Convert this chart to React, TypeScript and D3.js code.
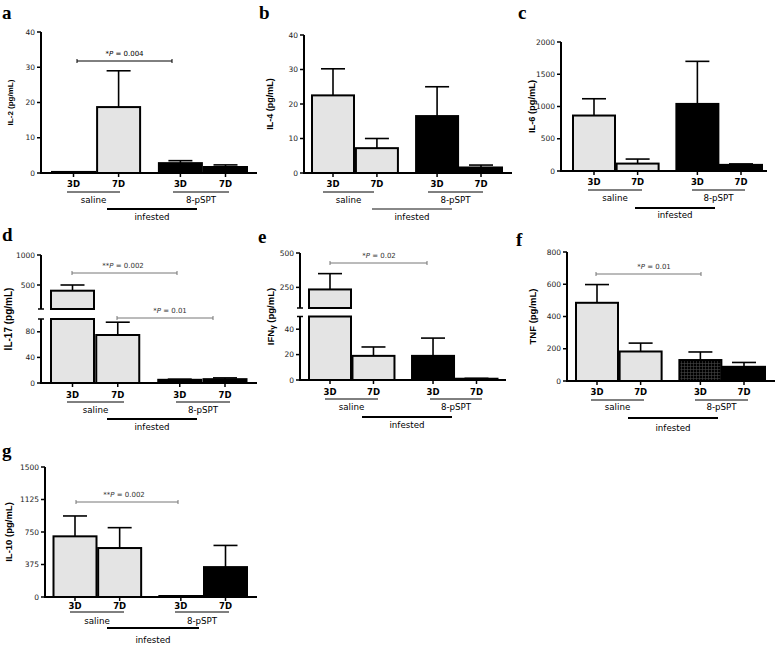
import React from "react";
import * as d3 from "d3";

// ---------- DATA ----------
const categories = ["3D", "7D", "3D", "7D"];
const groupLabels = ["saline", "8-pSPT"];
const infestedLabel = "infested";
const panelLetters = ["a", "b", "c", "d", "e", "f", "g"];
const yTitles = ["IL-2", "IL-4", "IL-6", "IL-17", "IFN", "TNF", "IL-10"];

const il2Mean = [0.3, 18.7, 2.8, 1.7];
const il2Upper = [0, 29, 3.5, 2.3];
const il4Mean = [22.5, 7.2, 16.5, 1.6];
const il4Upper = [30.2, 10, 25, 2.3];
const il6Mean = [860, 115, 1040, 95];
const il6Upper = [1120, 185, 1700, 110];
const il17Mean = [405, 75, 5, 6];
const il17Upper = [500, 95, 6, 8];
const ifnMean = [235, 19, 19, 1];
const ifnUpper = [350, 26, 33, 1.3];
const tnfMean = [485, 183, 130, 88];
const tnfUpper = [598, 235, 180, 115];
const il10Mean = [700, 565, 10, 345];
const il10Upper = [935, 800, 10, 595];

const ticksLinear40 = [0, 10, 20, 30, 40];
const ticksIL6 = [0, 500, 1000, 1500, 2000];
const ticksIL17Low = [0, 40, 80];
const ticksIL17High = [500, 1000];
const ticksIFNLow = [0, 20, 40];
const ticksIFNHigh = [250, 500];
const ticksTNF = [0, 200, 400, 600, 800];
const ticksIL10 = [0, 375, 750, 1125, 1500];

const pValues = ["*P = 0.004", "**P = 0.002", "*P = 0.01", "*P = 0.02", "*P = 0.01", "**P = 0.002"];

// bar fill kinds: s = saline (light), b = black, p = patterned
const fillsDefault = ["s", "s", "b", "b"];
const fillsTNF = ["s", "s", "p", "b"];

// ---------- LAYOUT ----------
type Seg = { domain: [number, number]; range: [number, number]; ticks: number[]; breakLow?: boolean; breakHigh?: boolean };
type Bracket = { x1: number; x2: number; y: number; text: string; color: string; tx?: number };

const panels = [
  {
    letter: panelLetters[0], lx: 2, ly: 19, title: yTitles[0], titleSize: 8, titleX: 10,
    mean: il2Mean, upper: il2Upper, fills: fillsDefault,
    axisX: 41, axisEnd: 257, zeroY: 173, c1: 73.5, c4: 225.5, barW: 43,
    segs: [{ domain: [0, 40], range: [173, 32], ticks: ticksLinear40 }] as Seg[],
    tickY: 184, underY: 192, groupY: 200, infY: 209, infTextY: 217,
    saline: [67, 120], pspt: [173, 229], inf: [107, 197], infColor: "#000",
    brackets: [{ x1: 77, x2: 172, y: 61, text: pValues[0], color: "#000" }] as Bracket[],
  },
  {
    letter: panelLetters[1], lx: 259, ly: 19, title: yTitles[1], titleSize: 9, titleX: 270,
    mean: il4Mean, upper: il4Upper, fills: fillsDefault,
    axisX: 304, axisEnd: 512, zeroY: 173, c1: 333, c4: 481, barW: 42,
    segs: [{ domain: [0, 40], range: [173, 35], ticks: ticksLinear40 }] as Seg[],
    tickY: 184, underY: 192, groupY: 200, infY: 209, infTextY: 217,
    saline: [323, 374], pspt: [428, 483], inf: [372, 452], infColor: "#888",
    brackets: [] as Bracket[],
  },
  {
    letter: panelLetters[2], lx: 518, ly: 19, title: yTitles[2], titleSize: 9.3, titleX: 532,
    mean: il6Mean, upper: il6Upper, fills: fillsDefault,
    axisX: 561, axisEnd: 767, zeroY: 171, c1: 594, c4: 741, barW: 42,
    segs: [{ domain: [0, 2000], range: [171, 42], ticks: ticksIL6 }] as Seg[],
    tickY: 182, underY: 190, groupY: 198, infY: 208, infTextY: 215,
    saline: [588, 642], pspt: [692, 745], inf: [635, 715], infColor: "#000",
    brackets: [] as Bracket[],
  },
  {
    letter: panelLetters[3], lx: 2, ly: 241, title: yTitles[3], titleSize: 10, titleX: 8,
    mean: il17Mean, upper: il17Upper, fills: fillsDefault,
    axisX: 41, axisEnd: 257, zeroY: 383, c1: 72.5, c4: 225, barW: 43,
    segs: [
      { domain: [0, 100], range: [383, 319], ticks: ticksIL17Low, breakHigh: true },
      { domain: [100, 1000], range: [309, 255], ticks: ticksIL17High, breakLow: true },
    ] as Seg[],
    tickY: 395, underY: 402, groupY: 410, infY: 419, infTextY: 427,
    saline: [67, 124], pspt: [176, 230], inf: [107, 197], infColor: "#000",
    brackets: [
      { x1: 72, x2: 177, y: 273, text: pValues[1], color: "#777", tx: 123 },
      { x1: 117, x2: 213, y: 318, text: pValues[2], color: "#777", tx: 170 },
    ] as Bracket[],
  },
  {
    letter: panelLetters[4], lx: 258, ly: 243, title: yTitles[4], titleSize: 9.5, titleX: 270,
    mean: ifnMean, upper: ifnUpper, fills: fillsDefault,
    axisX: 300, axisEnd: 506, zeroY: 380, c1: 330, c4: 476.5, barW: 42,
    segs: [
      { domain: [0, 50], range: [380, 316.5], ticks: ticksIFNLow, breakHigh: true },
      { domain: [100, 500], range: [308, 253], ticks: ticksIFNHigh, breakLow: true },
    ] as Seg[],
    tickY: 392, underY: 399, groupY: 407, infY: 417, infTextY: 425,
    saline: [325, 378], pspt: [430, 482], inf: [362, 452], infColor: "#000",
    brackets: [{ x1: 330, x2: 427, y: 263, text: pValues[3], color: "#777", tx: 379 }] as Bracket[],
  },
  {
    letter: panelLetters[5], lx: 516, ly: 246, title: yTitles[5], titleSize: 9.5, titleX: 532,
    mean: tnfMean, upper: tnfUpper, fills: fillsTNF,
    axisX: 567, axisEnd: 775, zeroY: 381, c1: 597, c4: 744, barW: 42,
    segs: [{ domain: [0, 800], range: [381, 252], ticks: ticksTNF }] as Seg[],
    tickY: 392, underY: 400, groupY: 407, infY: 418, infTextY: 428,
    saline: [591, 644], pspt: [695, 748], inf: [628, 718], infColor: "#000",
    brackets: [{ x1: 596, x2: 701, y: 274, text: pValues[4], color: "#777", tx: 654 }] as Bracket[],
  },
  {
    letter: panelLetters[6], lx: 2, ly: 457, title: yTitles[6], titleSize: 9.5, titleX: 8,
    mean: il10Mean, upper: il10Upper, fills: fillsDefault,
    axisX: 45, axisEnd: 257, zeroY: 597, c1: 75, c4: 225.5, barW: 43,
    segs: [{ domain: [0, 1500], range: [597, 467], ticks: ticksIL10 }] as Seg[],
    tickY: 606, underY: 612, groupY: 621, infY: 628, infTextY: 640,
    saline: [70, 124], pspt: [175, 229], inf: [107, 199], infColor: "#000",
    brackets: [{ x1: 76, x2: 178, y: 502, text: pValues[5], color: "#777", tx: 124 }] as Bracket[],
  },
];

const SLOTS = [0, 1, 2.37, 3.37];
const FONT = "'DejaVu Sans', 'Liberation Sans', sans-serif";
const FONT_ARIAL = "'Liberation Sans', Arial, sans-serif";
const SALINE_FILL = "#e4e4e4";

function PText({ text, x, y, color }: { text: string; x: number; y: number; color: string }) {
  const m = text.match(/^(\**)P(.*)$/);
  const stars = m ? m[1] : "";
  const rest = m ? m[2] : text;
  return (
    <text x={x} y={y} textAnchor="middle" fontFamily={FONT} fontSize={7} fill={color === "#000" ? "#000" : "#333"}>
      {stars}
      <tspan fontStyle="italic">P</tspan>
      {rest}
    </text>
  );
}

function Panel({ p }: { p: (typeof panels)[number] }) {
  const x = d3.scaleLinear().domain([0, 3.37]).range([p.c1, p.c4]);
  const scales = p.segs.map((s) => ({ seg: s, sc: d3.scaleLinear().domain(s.domain).range(s.range) }));
  const segFor = (v: number) => scales.find((s) => v <= s.seg.domain[1] && v >= s.seg.domain[0]) || scales[scales.length - 1];
  const topMid = (p.segs[p.segs.length - 1].range[1] + p.zeroY) / 2;
  const fillOf = (f: string) => (f === "s" ? SALINE_FILL : f === "p" ? "url(#grid)" : "#000");

  return (
    <g>
      <text x={p.lx} y={p.ly} fontFamily="'Liberation Serif', 'DejaVu Serif', serif" fontWeight="bold" fontSize={19}>
        {p.letter}
      </text>
      {/* y title */}
      <text
        transform={`translate(${p.titleX},${topMid}) rotate(-90)`}
        textAnchor="middle"
        dominantBaseline="central"
        fontFamily={FONT_ARIAL}
        fontWeight="bold"
        fontSize={p.titleSize}
      >
        {p.title === "IFN" ? (
          <>
            IFN<tspan fontSize={p.titleSize * 0.85} dy={2}>γ</tspan>
            <tspan dy={-2}> (pg/mL)</tspan>
          </>
        ) : (
          `${p.title} (pg/mL)`
        )}
      </text>
      {/* bars */}
      {p.mean.map((v, i) => {
        const cx = x(SLOTS[i]);
        return scales.map((s, j) => {
          if (j > 0 && v <= s.seg.domain[0]) return null;
          const lo = s.sc(s.seg.domain[0]);
          const hi = s.sc(Math.min(v, s.seg.domain[1]));
          return (
            <rect
              key={`b${i}-${j}`}
              x={cx - p.barW / 2}
              y={Math.min(hi, lo - 1)}
              width={p.barW}
              height={Math.max(lo - hi, 1)}
              fill={fillOf(p.fills[i])}
              stroke="#000"
              strokeWidth={2}
            />
          );
        });
      })}
      {/* error bars */}
      {p.mean.map((v, i) => {
        const u = p.upper[i];
        if (!(u > v)) return null;
        const cx = x(SLOTS[i]);
        const yb = segFor(v).sc(v);
        const yt = segFor(u).sc(u);
        return (
          <g key={`e${i}`} stroke="#000" strokeWidth={1.6}>
            <line x1={cx} x2={cx} y1={yb} y2={yt} />
            <line x1={cx - 12} x2={cx + 12} y1={yt} y2={yt} />
          </g>
        );
      })}
      {/* y axis */}
      {scales.map((s, j) => (
        <g key={`ax${j}`}>
          <line x1={p.axisX} x2={p.axisX} y1={s.seg.range[0] + (j === 0 ? 1 : 0)} y2={s.seg.range[1]} stroke="#000" strokeWidth={2} />
          {s.seg.breakHigh && <line x1={p.axisX - 3} x2={p.axisX + 3} y1={s.seg.range[1]} y2={s.seg.range[1]} stroke="#000" strokeWidth={1.5} />}
          {s.seg.breakLow && <line x1={p.axisX - 3} x2={p.axisX + 3} y1={s.seg.range[0]} y2={s.seg.range[0]} stroke="#000" strokeWidth={1.5} />}
          {s.seg.ticks.map((t) => (
            <g key={t}>
              <line x1={p.axisX - 4} x2={p.axisX} y1={s.sc(t)} y2={s.sc(t)} stroke="#000" strokeWidth={1.5} />
              <text x={p.axisX - 6} y={s.sc(t)} textAnchor="end" dominantBaseline="central" fontFamily={FONT} fontSize={7.5} fill="#222">
                {t}
              </text>
            </g>
          ))}
        </g>
      ))}
      {/* x axis */}
      <line x1={p.axisX - 1} x2={p.axisEnd} y1={p.zeroY} y2={p.zeroY} stroke="#000" strokeWidth={2} />
      {categories.map((c, i) => (
        <g key={`xc${i}`}>
          <line x1={x(SLOTS[i])} x2={x(SLOTS[i])} y1={p.zeroY} y2={p.zeroY + 4} stroke="#000" strokeWidth={1.5} />
          <text x={x(SLOTS[i])} y={p.tickY} textAnchor="middle" dominantBaseline="central" fontFamily={FONT} fontWeight="bold" fontSize={8.5}>
            {c}
          </text>
        </g>
      ))}
      {/* group underlines */}
      <line x1={p.saline[0]} x2={p.saline[1]} y1={p.underY} y2={p.underY} stroke="#000" strokeWidth={1} />
      <text x={(p.saline[0] + p.saline[1]) / 2} y={p.groupY} textAnchor="middle" dominantBaseline="central" fontFamily={FONT} fontSize={8.7}>
        {groupLabels[0]}
      </text>
      <line x1={p.pspt[0]} x2={p.pspt[1]} y1={p.underY} y2={p.underY} stroke="#000" strokeWidth={1} />
      <text x={(p.pspt[0] + p.pspt[1]) / 2} y={p.groupY} textAnchor="middle" dominantBaseline="central" fontFamily={FONT} fontSize={8.7}>
        {groupLabels[1]}
      </text>
      <line x1={p.inf[0]} x2={p.inf[1]} y1={p.infY} y2={p.infY} stroke={p.infColor} strokeWidth={2} />
      <text x={(p.inf[0] + p.inf[1]) / 2} y={p.infTextY} textAnchor="middle" dominantBaseline="central" fontFamily={FONT} fontSize={8.7}>
        {infestedLabel}
      </text>
      {/* significance brackets */}
      {p.brackets.map((b, k) => (
        <g key={`br${k}`}>
          <line x1={b.x1} x2={b.x2} y1={b.y} y2={b.y} stroke={b.color} strokeWidth={1} />
          <line x1={b.x1} x2={b.x1} y1={b.y - 2} y2={b.y + 2} stroke={b.color} strokeWidth={1} />
          <line x1={b.x2} x2={b.x2} y1={b.y - 2} y2={b.y + 2} stroke={b.color} strokeWidth={1} />
          <PText text={b.text} x={b.tx ?? (b.x1 + b.x2) / 2} y={b.y - 5} color={b.color} />
        </g>
      ))}
    </g>
  );
}

export default function App() {
  return (
    <svg width={775} height={646} style={{ position: "absolute", left: 0, top: 0, background: "#fff" }}>
      <defs>
        <pattern id="grid" width="3" height="3" patternUnits="userSpaceOnUse">
          <rect width="3" height="3" fill="#000" />
          <path d="M0 0.5 H3 M0.5 0 V3" stroke="#444" strokeWidth="0.6" />
        </pattern>
      </defs>
      <rect width={775} height={646} fill="#fff" />
      {panels.map((p, i) => (
        <Panel key={i} p={p} />
      ))}
    </svg>
  );
}
